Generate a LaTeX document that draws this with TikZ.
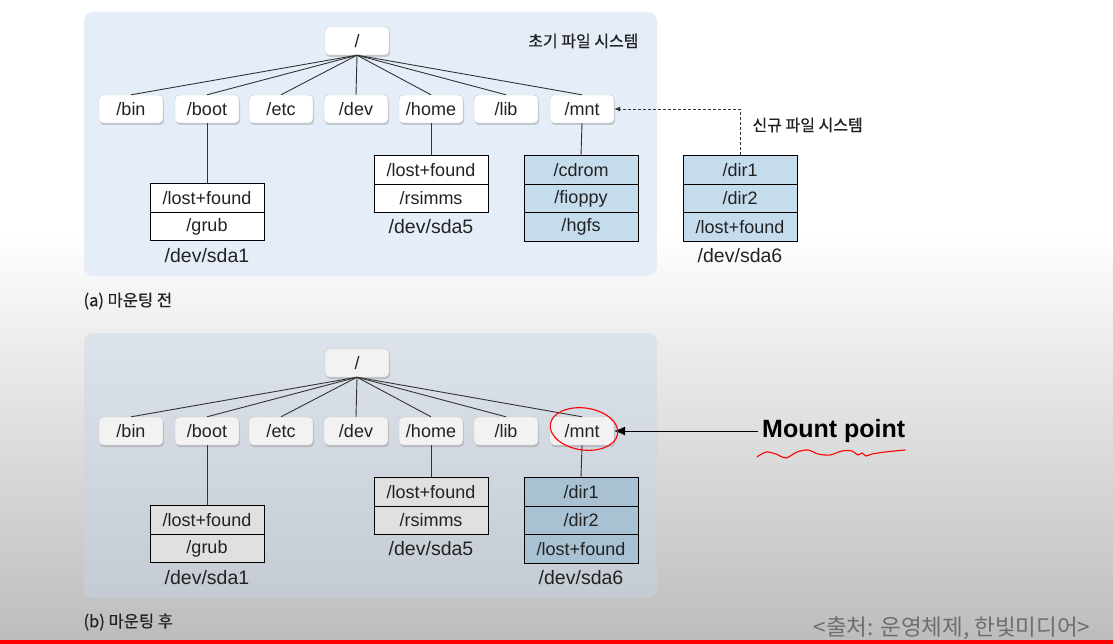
\documentclass[tikz,border=0pt]{standalone}
\usepackage{fontspec}
\setmainfont{Liberation Sans}
\newfontfamily\kr{Noto Sans CJK KR}
\newfontfamily\krb[FakeBold=0.6]{Noto Sans CJK KR}
\newfontfamily\mpfont{Liberation Sans}
\usetikzlibrary{shadows,arrows.meta}
\definecolor{panelA}{RGB}{229,238,248}
\definecolor{panelBt}{RGB}{221,227,234}
\definecolor{panelBb}{RGB}{196,203,211}
\definecolor{cellblue}{RGB}{197,220,237}
\definecolor{cellblueB}{RGB}{168,194,212}
\definecolor{cellgray}{RGB}{224,224,224}
\definecolor{txt}{RGB}{34,34,34}
\definecolor{srcgray}{RGB}{110,110,110}
\begin{document}
\begin{tikzpicture}[x=1pt,y=-1pt,
  dirbox/.style={draw=gray!45, rounded corners=4pt, minimum width=64pt, minimum height=28pt,
    inner sep=0pt, font=\fontsize{18}{20}\selectfont, text=txt,
    drop shadow={shadow xshift=1pt, shadow yshift=-2pt, opacity=0.35}},
  dirA/.style={dirbox, fill=white},
  dirB/.style={dirbox, fill=gray!10},
  cell/.style={draw=black, line width=0.8pt, minimum width=114pt, minimum height=28.5pt,
    inner sep=0pt, font=\fontsize{18}{20}\selectfont, text=txt},
  devlbl/.style={font=\fontsize{19.5}{22}\selectfont, text=txt},
  krlbl/.style={font=\krb\fontsize{16}{19}\selectfont, text=txt},
  link/.style={line width=0.9pt, draw=black!80}
]
\useasboundingbox (0,0) rectangle (1113,644);
% background
\fill[white] (0,0) rectangle (1113,644);
\shade[top color=white, bottom color={rgb,255:red,188;green,188;blue,188}] (0,230) rectangle (1113,644);
\fill[red] (0,640) rectangle (1113,644);

% panels
\fill[panelA, rounded corners=9pt] (84,12) rectangle (657,276);
\shade[top color=panelBt, bottom color=panelBb, rounded corners=9pt] (84,333) rectangle (657,598);

% ---------- (a) ----------
\node[dirA] (aroot) at (357,41) {/};
\foreach \n/\x in {bin/131,boot/207,etc/281,dev/356,home/431,lib/506,mnt/582}{
  \node[dirA] (a\n) at (\x,109) {/\n};
}
\foreach \n in {bin,boot,etc,dev,home,lib,mnt}{
  \draw[link] (aroot.south) -- (a\n.north);
}
\node[krlbl, anchor=east] (atitle) at (642,41) {초기 파일 시스템};

% sda1
\node[cell, fill=white] (a1a) at (207,198) {/lost+found};
\node[cell, fill=white] (a1b) at (207,226.5) {/grub};
\node[devlbl] (a1l) at (207,256) {/dev/sda1};
\draw[link] (aboot.south) -- (a1a.north);
% sda5
\node[cell, fill=white] (a5a) at (431,170) {/lost+found};
\node[cell, fill=white] (a5b) at (431,198.5) {/rsimms};
\node[devlbl] (a5l) at (431,227) {/dev/sda5};
\draw[link] (ahome.south) -- (a5a.north);
% mnt contents
\node[cell, fill=cellblue] (ama) at (581,170) {/cdrom};
\node[cell, fill=cellblue] (amb) at (581,198.5) {/fioppy};
\node[cell, fill=cellblue] (amc) at (581,227) {/hgfs};
\draw[link] (amnt.south) -- (ama.north);
% sda6 new
\node[cell, fill=cellblue] (a6a) at (740,170) {/dir1};
\node[cell, fill=cellblue] (a6b) at (740,198.5) {/dir2};
\node[cell, fill=cellblue] (a6c) at (740,227) {/lost+found};
\node[devlbl] (a6l) at (740,256) {/dev/sda6};
\draw[link, dash pattern=on 3pt off 2pt, -{Latex[length=6pt,width=5pt]}] (a6a.north) |- (amnt.east);
\node[krlbl, anchor=west] (anew) at (749,125) {신규 파일 시스템};

\node[font=\krb\fontsize{16.5}{19}\selectfont, text=txt, anchor=west] (acap) at (80,301) {(a) 마운팅 전};

% ---------- (b) ----------
\node[dirB] (broot) at (357,363) {/};
\foreach \n/\x in {bin/131,boot/207,etc/281,dev/356,home/431,lib/506,mnt/582}{
  \node[dirB] (b\n) at (\x,431) {/\n};
}
\foreach \n in {bin,boot,etc,dev,home,lib,mnt}{
  \draw[link] (broot.south) -- (b\n.north);
}
% sda1
\node[cell, fill=cellgray] (b1a) at (207,520) {/lost+found};
\node[cell, fill=cellgray] (b1b) at (207,548.5) {/grub};
\node[devlbl] (b1l) at (207,578) {/dev/sda1};
\draw[link] (bboot.south) -- (b1a.north);
% sda5
\node[cell, fill=cellgray] (b5a) at (431,492) {/lost+found};
\node[cell, fill=cellgray] (b5b) at (431,520.5) {/rsimms};
\node[devlbl] (b5l) at (431,549) {/dev/sda5};
\draw[link] (bhome.south) -- (b5a.north);
% sda6 mounted
\node[cell, fill=cellblueB] (bma) at (581,492) {/dir1};
\node[cell, fill=cellblueB] (bmb) at (581,520.5) {/dir2};
\node[cell, fill=cellblueB] (bmc) at (581,549) {/lost+found};
\node[devlbl] (bml) at (581,578) {/dev/sda6};
\draw[link] (bmnt.south) -- (bma.north);

\node[font=\krb\fontsize{16.5}{19}\selectfont, text=txt, anchor=west] (bcap) at (80,622) {(b) 마운팅 후};

% mount point annotation
\node[font=\mpfont\bfseries\fontsize{25}{28}\selectfont, anchor=west, text=black, inner sep=0pt] (mp) at (762,431) {Mount point};
\coordinate (mpstart) at (758,431);
\draw[line width=0.8pt, -{Latex[length=11pt,width=9pt]}] (mpstart) -- (bmnt.east);

% red hand-drawn marks
\draw[red, line width=1.1pt, rotate around={-8:(584,429)}] (584,429) ellipse [x radius=34, y radius=21];
\draw[red, line width=1.1pt, line cap=round] plot[smooth] coordinates {(757,457) (766,452) (776,454) (786,458) (797,452) (808,450) (818,454) (830,455) (842,451) (852,451) (858,455) (862,453) (866,456) (872,454) (885,452) (905,450)};

% source
\node[font=\kr\fontsize{22.5}{25}\selectfont, text=srcgray, anchor=east] (src) at (1094,628) {<출처: 운영체제, 한빛미디어>};
\end{tikzpicture}
\end{document}
